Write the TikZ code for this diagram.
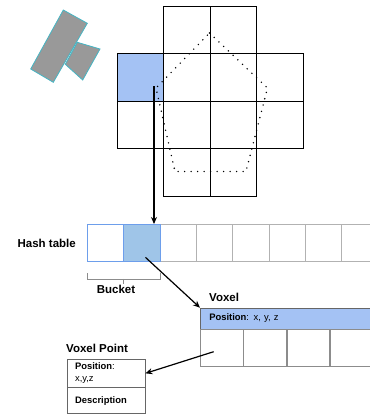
\documentclass[tikz,border=0pt]{standalone}
\usepackage{fontspec}
\setmainfont{Liberation Sans}
\usetikzlibrary{arrows.meta,positioning}
\definecolor{cellblue}{HTML}{A4C2F4}
\definecolor{bucketblue}{HTML}{9FC5E8}
\definecolor{bucketline}{HTML}{6D9EEB}
\definecolor{sensorgray}{HTML}{999999}
\definecolor{sensorline}{HTML}{45B5C4}

\begin{document}
\begin{tikzpicture}[x=1pt,y=-1pt,>={Stealth[length=7pt,width=6pt]},
	gridcell/.style={draw=black,line width=.8pt},
	htcell/.style={draw=black!30,line width=.8pt,anchor=north west,inner sep=0pt,minimum width=36.3pt,minimum height=37.3pt},
	bucketcell/.style={htcell,draw=bucketline,line width=1.1pt},
	voxcell/.style={draw=black!45,line width=.7pt,anchor=north west,inner sep=0pt,minimum width=42.6pt,minimum height=37.3pt},
	title/.style={font=\bfseries\fontsize{11.5}{13}\selectfont,inner sep=0pt},
	small/.style={font=\fontsize{9.4}{11.7}\selectfont},
	link/.style={->,line width=1.2pt}]
	\useasboundingbox (0,0) rectangle (370,416);
	\clip (0,0) rectangle (370,416);
	% sensor
	\draw[fill=sensorgray,draw=sensorline,line width=.8pt] (77.3,42.3) -- (100,49) -- (82.7,80) -- (65.3,64.3) -- cycle;
	\draw[fill=sensorgray,draw=sensorline,line width=.8pt] (63.3,10) -- (87.3,23.3) -- (53.3,82.3) -- (30.7,69) -- cycle;
	% voxel grid
	\fill[cellblue] (117,53.5) rectangle +(46.5,47.5);
	\foreach \r in {0,...,3} \foreach \c in {1,2}
		\draw[gridcell] ({117+46.5*\c},{6+47.5*\r}) rectangle +(46.5,47.5);
	\foreach \c in {0,3} \foreach \r in {1,2}
		\draw[gridcell] ({117+46.5*\c},{6+47.5*\r}) rectangle +(46.5,47.5);
	\draw[line width=1.6pt,line cap=round,dash pattern=on 0pt off 6.5pt]
		(209.5,33) -- (267.5,88) -- (246,171.5) -- (175,171.5) -- (156,88) -- cycle;
	\coordinate (gridpick) at (154,86);
	% hash table
	\foreach \i in {3,...,8} \node[htcell] (h\i) at ({87+36.3*(\i-1)},224) {};
	\node[bucketcell] (h1) at (87,224) {};
	\node[bucketcell,fill=bucketblue] (h2) at (123.3,224) {};
	\node[title,left=11pt of h1] (htlabel) {Hash table};
	\draw[black!45,line width=.7pt] ([yshift=-11pt]h1.south west) |- ([yshift=-16.5pt]h2.south west)
		-| ([yshift=-11pt]h2.south east);
	\draw[black!45,line width=.7pt] ([yshift=-16.5pt]h2.south west) -- ++(0,5.5);
	\node[title] (bucketlbl) at (116,289.5) {Bucket};
	\draw[link] (gridpick) -- (gridpick |- h2.north);
	% voxel
	\node[draw=black!60,line width=.7pt,fill=cellblue,anchor=north west,minimum height=21pt,
		text width=175pt,inner xsep=9pt,inner ysep=0pt,small] (vhead) at (200,307.7) {\textbf{Position}: x, y, z};
	\node[title,anchor=south west] (voxlbl) at (209,301.5) {Voxel};
	\node[voxcell] (vc1) at (200,328.7) {};
	\foreach \i [remember=\i as \j (initially 1)] in {2,...,5}
		\node[voxcell,right=0pt of vc\j] (vc\i) {};
	\draw[link] ([xshift=3.5pt,yshift=5pt]h2.south) -- (vhead.north west);
	% voxel point
	\node[draw=black!60,line width=.7pt,anchor=north west,minimum height=27.4pt,text width=62pt,
		inner xsep=8pt,inner ysep=2pt,align=left,small] (vp1) at (66.7,359.3) {\textbf{Position}:\\x,y,z};
	\node[draw=black!60,line width=.7pt,anchor=north west,minimum height=26pt,text width=62pt,
		inner xsep=8pt,inner ysep=0pt,align=left,small] (vp2) at (vp1.south west) {\textbf{Description}};
	\node[title,anchor=south west] (vplbl) at (66,352.5) {Voxel Point};
	\draw[link] ([xshift=-8pt,yshift=-4pt]vc1.center) -- (vp1.east);
\end{tikzpicture}
\end{document}
